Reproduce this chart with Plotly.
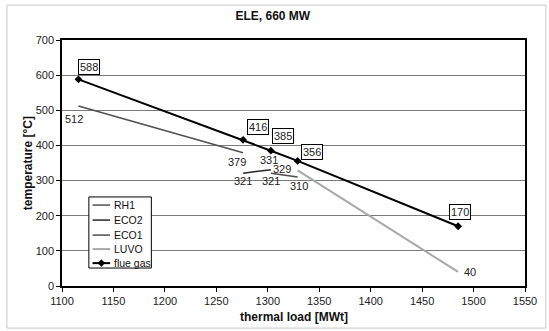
import plotly.graph_objects as go

# ---- data ----
load_flue = [1116, 1276, 1303, 1329, 1485]
temp_flue = [588, 416, 385, 356, 170]
load_rh1 = [1116, 1276]
temp_rh1 = [512, 379]
load_eco2 = [1276, 1303]
temp_eco2 = [321, 331]
load_eco1 = [1303, 1329]
temp_eco1 = [321, 310]
load_luvo = [1329, 1485]
temp_luvo = [329, 40]
x_ticks = [1100, 1150, 1200, 1250, 1300, 1350, 1400, 1450, 1500, 1550]
y_ticks = [0, 100, 200, 300, 400, 500, 600, 700]
series_names = ["RH1", "ECO2", "ECO1", "LUVO", "flue gas"]
series_colors = ["#505050", "#262626", "#4e4e4e", "#a8a8a8", "#000000"]

FONT = "Liberation Sans, Arial, sans-serif"
TXT = "#222222"

fig = go.Figure()
series = [(load_rh1, temp_rh1), (load_eco2, temp_eco2), (load_eco1, temp_eco1), (load_luvo, temp_luvo)]
widths = [1.5, 1.5, 1.5, 2]
for (xs, ys), name, col, w in zip(series, series_names[:4], series_colors[:4], widths):
    fig.add_trace(go.Scatter(x=xs, y=ys, mode="lines", name=name, showlegend=False,
                             line=dict(color=col, width=w)))
fig.add_trace(go.Scatter(x=load_flue, y=temp_flue, mode="lines+markers", name="flue gas",
                         showlegend=False, line=dict(color="#000000", width=2),
                         marker=dict(symbol="diamond", size=6, color="#000000")))

# boxed labels for flue gas
box_shift = [(11, 12), (15, 13), (12, 15), (14, 9), (2, 14)]
for x, y, (dx, dy) in zip(load_flue, temp_flue, box_shift):
    fig.add_annotation(x=x, y=y, text=str(y), showarrow=False, xshift=dx, yshift=dy,
                       bordercolor="#000000", borderwidth=1, borderpad=1,
                       bgcolor="#ffffff", font=dict(size=11, color=TXT, family=FONT))

# plain labels for the other series
plain = [
    (load_rh1[0], temp_rh1[0], -4, -13),
    (load_rh1[1], temp_rh1[1], -6, -9),
    (load_eco2[0], temp_eco2[0], 0, -8),
    (load_eco2[1], temp_eco2[1], -2, 10),
    (load_eco1[0], temp_eco1[0], 0, -8),
    (load_eco1[1], temp_eco1[1], 1, -9),
    (load_luvo[0], temp_luvo[0], -16, 1),
    (load_luvo[1], temp_luvo[1], 12, 0),
]
for x, y, dx, dy in plain:
    fig.add_annotation(x=x, y=y, text=str(y), showarrow=False, xshift=dx, yshift=dy,
                       font=dict(size=11, color=TXT, family=FONT))

# axis titles
fig.add_annotation(xref="paper", yref="paper", x=0.5, y=-0.126, text="<b>thermal load [MWt]</b>",
                   showarrow=False, xanchor="center", yanchor="middle",
                   font=dict(size=12, family=FONT, color="#111111"))
fig.add_annotation(xref="paper", yref="paper", x=-0.073, y=0.5, text="<b>temperature [°C]</b>",
                   showarrow=False, xanchor="center", yanchor="middle", textangle=-90,
                   font=dict(size=12, family=FONT, color="#111111"))

# ---- compact legend (box, line samples, texts) ----
shapes = [
    dict(type="rect", xref="paper", yref="paper", x0=-0.119, x1=1.045, y0=-0.171, y1=1.142,
         line=dict(color="#c8c8c8", width=1), layer="below"),
    dict(type="rect", xref="paper", yref="paper", x0=0.058, x1=0.193, y0=0.073, y1=0.362,
         line=dict(color="#000000", width=1), fillcolor="#ffffff", layer="above"),
]
leg_y = [0.329, 0.268, 0.207, 0.150, 0.093]
for name, col, yy in zip(series_names, series_colors, leg_y):
    shapes.append(dict(type="line", xref="paper", yref="paper", x0=0.066, x1=0.104, y0=yy, y1=yy,
                       line=dict(color=col, width=2 if name in ("LUVO", "flue gas") else 1.5),
                       layer="above"))
    fig.add_annotation(xref="paper", yref="paper", x=0.107, y=yy, text=name, showarrow=False,
                       xanchor="left", yanchor="middle",
                       font=dict(size=10.5, color="#111111", family=FONT))
mx, my, dx, dy = 0.085, leg_y[-1], 0.0076, 0.0142
shapes.append(dict(type="path", xref="paper", yref="paper",
                   path=f"M {mx},{my + dy} L {mx + dx},{my} L {mx},{my - dy} L {mx - dx},{my} Z",
                   fillcolor="#000000", line=dict(color="#000000", width=0.5), layer="above"))

fig.update_layout(
    width=549, height=331,
    margin=dict(l=62, r=24, t=40, b=45, pad=0),
    paper_bgcolor="#ffffff", plot_bgcolor="#ffffff",
    font=dict(family=FONT, size=11, color=TXT),
    title=dict(text="<b>ELE, 660 MW</b>", x=0.497, xanchor="center", y=0.952, yanchor="middle",
               font=dict(size=12, color="#111111", family=FONT)),
    showlegend=False,
    shapes=shapes,
)
fig.update_xaxes(range=[1100, 1550], tickvals=x_ticks, showgrid=False,
                 showline=True, linecolor="#000000", linewidth=1.5, mirror=True,
                 ticks="outside", ticklen=4, tickcolor="#000000", zeroline=False)
fig.update_yaxes(range=[0, 700], tickvals=y_ticks, showgrid=True, gridcolor="#7a7a7a", gridwidth=1,
                 showline=True, linecolor="#000000", linewidth=1.5, mirror=True,
                 ticks="outside", ticklen=4, tickcolor="#000000", zeroline=False)

fig.write_html("out.html", config={"displayModeBar": False},
               post_script="document.body.style.margin='0';")
